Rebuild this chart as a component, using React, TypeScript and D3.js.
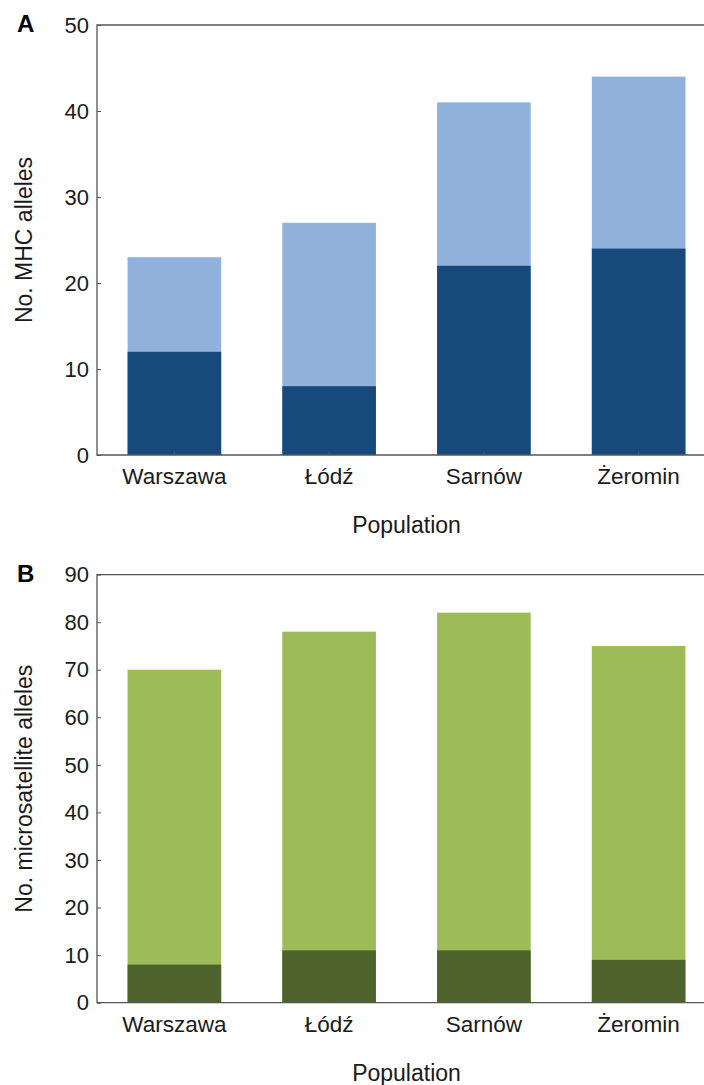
import { useEffect, useRef } from 'react';
import * as d3 from 'd3';

const populations = ['Warszawa', 'Łódź', 'Sarnów', 'Żeromin'];

// panel A: MHC alleles
const mhcTotal = [23, 27, 41, 44];
const mhcDark = [12, 8, 22, 24];
const mhcTicks = [0, 10, 20, 30, 40, 50];

// panel B: microsatellite alleles
const msatTotal = [70, 78, 82, 75];
const msatDark = [8, 11, 11, 9];
const msatTicks = [0, 10, 20, 30, 40, 50, 60, 70, 80, 90];

const colors = {
  darkBlue: '#174a7c',
  lightBlue: '#8fb1dc',
  darkGreen: '#4e622c',
  lightGreen: '#9dbb59',
  axis: '#555555',
  text: '#1a1a1a',
};

const font = '"Liberation Sans", Arial, Helvetica, sans-serif';

export default function App() {
  const ref = useRef<SVGSVGElement>(null);

  useEffect(() => {
    const svg = d3.select(ref.current);
    svg.selectAll('*').remove();

    const left = 97;
    const right = 716;

    const x = d3
      .scaleBand()
      .domain(populations)
      .range([left, right])
      .paddingInner(0.395)
      .paddingOuter(0.1975);

    const drawPanel = (
      letter: string,
      top: number,
      bottom: number,
      maxY: number,
      ticks: number[],
      total: number[],
      dark: number[],
      lightColor: string,
      darkColor: string,
      yLabel: string
    ) => {
      const g = svg.append('g');
      const y = d3.scaleLinear().domain([0, maxY]).range([bottom, top]);

      // stacked bars: total (light) then lower part (dark)
      g.selectAll('rect.light')
        .data(populations)
        .enter()
        .append('rect')
        .attr('class', 'light')
        .attr('x', d => x(d))
        .attr('width', x.bandwidth())
        .attr('y', (d, i) => y(total[i]))
        .attr('height', (d, i) => y(0) - y(total[i]))
        .attr('fill', lightColor);

      g.selectAll('rect.dark')
        .data(populations)
        .enter()
        .append('rect')
        .attr('class', 'dark')
        .attr('x', d => x(d))
        .attr('width', x.bandwidth())
        .attr('y', (d, i) => y(dark[i]))
        .attr('height', (d, i) => y(0) - y(dark[i]))
        .attr('fill', darkColor);

      // frame: left, top, bottom
      g.append('path')
        .attr('d', `M${right},${top}H${left}V${bottom}H${right}`)
        .attr('fill', 'none')
        .attr('stroke', colors.axis)
        .attr('stroke-width', 1.3);

      // y ticks pointing inward
      const yAxis = g
        .append('g')
        .attr('transform', `translate(${left},0)`)
        .call(
          d3
            .axisRight(y)
            .tickValues(ticks)
            .tickSize(4)
            .tickFormat(() => '')
        );
      yAxis.select('.domain').remove();
      yAxis.selectAll('line').attr('stroke', colors.axis);

      g.selectAll('text.ytick')
        .data(ticks)
        .enter()
        .append('text')
        .attr('class', 'ytick')
        .attr('x', left - 8)
        .attr('y', d => y(d))
        .attr('dy', '0.35em')
        .attr('text-anchor', 'end')
        .style('font-family', font)
        .style('font-size', '22px')
        .style('fill', colors.text)
        .text(d => d);

      // x ticks pointing inward
      const xAxis = g
        .append('g')
        .attr('transform', `translate(0,${bottom})`)
        .call(
          d3
            .axisTop(x)
            .tickSize(4)
            .tickFormat(() => '')
        );
      xAxis.select('.domain').remove();
      xAxis.selectAll('line').attr('stroke', colors.axis);

      g.selectAll('text.xtick')
        .data(populations)
        .enter()
        .append('text')
        .attr('class', 'xtick')
        .attr('x', d => x(d) + x.bandwidth() / 2)
        .attr('y', bottom + 29)
        .attr('text-anchor', 'middle')
        .style('font-family', font)
        .style('font-size', '22.5px')
        .style('fill', colors.text)
        .text(d => d);

      g.append('text')
        .attr('x', (left + right) / 2)
        .attr('y', bottom + 78)
        .attr('text-anchor', 'middle')
        .style('font-family', font)
        .style('font-size', '23px')
        .style('fill', colors.text)
        .text('Population');

      g.append('text')
        .attr('transform', `translate(32,${(top + bottom) / 2}) rotate(-90)`)
        .attr('text-anchor', 'middle')
        .style('font-family', font)
        .style('font-size', '23px')
        .style('fill', colors.text)
        .text(yLabel);

      g.append('text')
        .attr('x', 17)
        .attr('y', top + 7)
        .style('font-family', font)
        .style('font-size', '24px')
        .style('font-weight', 'bold')
        .style('fill', '#000')
        .text(letter);
    };

    drawPanel('A', 25, 455, 50, mhcTicks, mhcTotal, mhcDark, colors.lightBlue, colors.darkBlue, 'No. MHC alleles');
    drawPanel('B', 574.6, 1002.7, 90, msatTicks, msatTotal, msatDark, colors.lightGreen, colors.darkGreen, 'No. microsatellite alleles');
  }, []);

  return (
    <svg
      ref={ref}
      width={704}
      height={1085}
      style={{ position: 'absolute', left: 0, top: 0, background: '#fff' }}
    />
  );
}
